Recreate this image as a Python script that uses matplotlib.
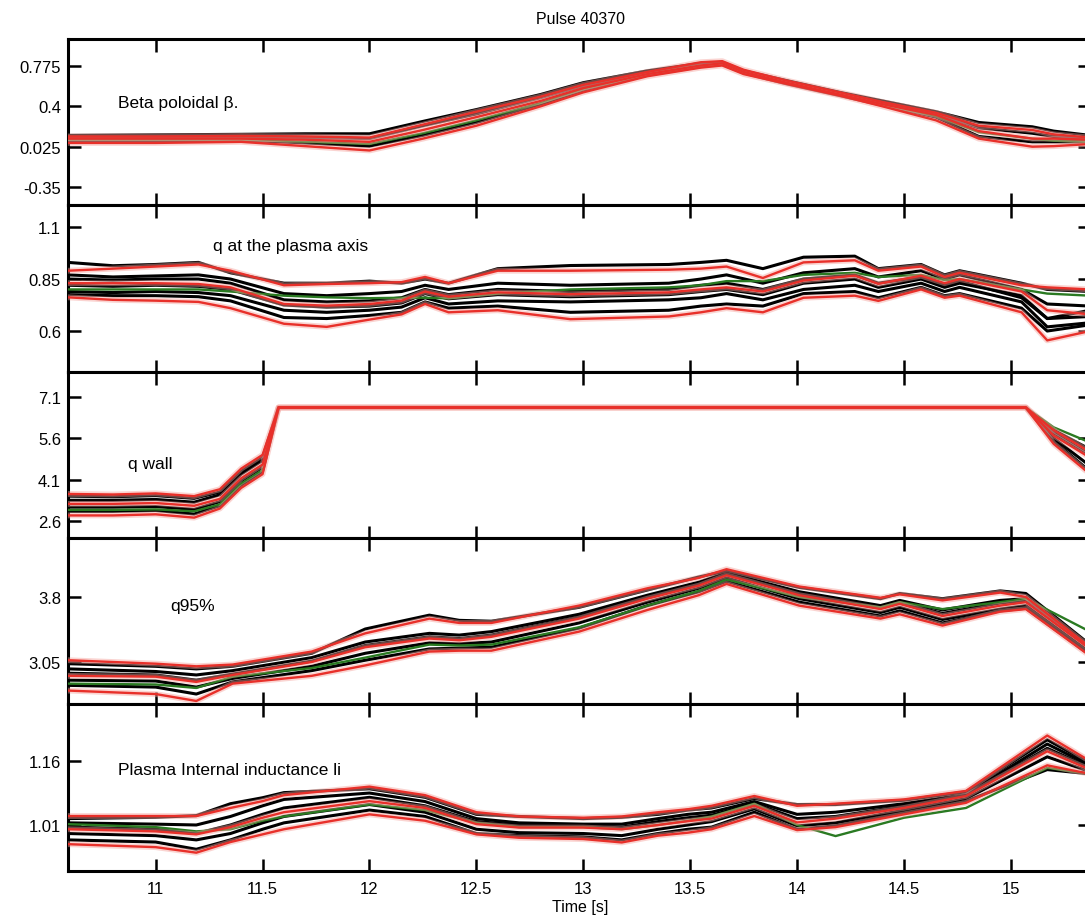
import matplotlib
matplotlib.use("Agg")
import matplotlib.pyplot as plt

plt.rcParams['font.family'] = ['Liberation Sans', 'DejaVu Sans']

# ---------------- shared axis ----------------
x_ticks = [11, 11.5, 12, 12.5, 13, 13.5, 14, 14.5, 15]
x_ticklabels = ["11", "11.5", "12", "12.5", "13", "13.5", "14", "14.5", "15"]
x_range = (10.59, 15.37)

# ---------------- panel 1: Beta poloidal ----------------
beta_t = [10.59, 11.0, 11.4, 11.7, 12.0, 12.25, 12.5, 12.8, 13.0, 13.3, 13.55,
          13.65, 13.75, 13.95, 14.2, 14.4, 14.65, 14.85, 15.1, 15.2, 15.37]
beta_black_1 = [0.13, 0.135, 0.14, 0.145, 0.145, 0.26, 0.37, 0.51, 0.62, 0.73, 0.80,
                0.81, 0.73, 0.64, 0.53, 0.45, 0.35, 0.25, 0.21, 0.17, 0.13]
beta_black_2 = [0.11, 0.115, 0.12, 0.11, 0.10, 0.22, 0.33, 0.48, 0.59, 0.72, 0.79,
                0.80, 0.73, 0.63, 0.52, 0.43, 0.33, 0.20, 0.15, 0.12, 0.10]
beta_black_3 = [0.08, 0.08, 0.085, 0.06, 0.03, 0.13, 0.25, 0.42, 0.55, 0.69, 0.77,
                0.79, 0.71, 0.61, 0.50, 0.41, 0.30, 0.12, 0.07, 0.07, 0.07]
beta_red_hi = [0.12, 0.12, 0.125, 0.12, 0.11, 0.23, 0.35, 0.49, 0.60, 0.72, 0.81,
               0.82, 0.74, 0.64, 0.53, 0.44, 0.34, 0.22, 0.18, 0.14, 0.11]
beta_red_mid = [0.10, 0.10, 0.10, 0.09, 0.07, 0.18, 0.30, 0.45, 0.57, 0.70, 0.78,
                0.80, 0.72, 0.62, 0.51, 0.42, 0.32, 0.17, 0.10, 0.10, 0.09]
beta_red_lo = [0.06, 0.06, 0.07, 0.03, -0.01, 0.10, 0.22, 0.40, 0.53, 0.68, 0.76,
               0.78, 0.70, 0.61, 0.50, 0.40, 0.27, 0.10, 0.025, 0.03, 0.05]
beta_green = [0.09, 0.09, 0.09, 0.07, 0.05, 0.15, 0.27, 0.43, 0.56, 0.70, 0.78,
              0.79, 0.72, 0.62, 0.51, 0.41, 0.31, 0.16, 0.10, 0.08, 0.07]
beta_yticks = [0.775, 0.4, 0.025, -0.35]
beta_yticklabels = ["0.775", "0.4", "0.025", "-0.35"]

# ---------------- panel 2: q at the plasma axis ----------------
qaxis_t = [10.59, 10.8, 11.0, 11.2, 11.35, 11.6, 11.8, 12.0, 12.15, 12.26, 12.37, 12.6, 12.94,
           13.4, 13.55, 13.67, 13.84, 14.03, 14.27, 14.38, 14.58, 14.69, 14.76, 15.05, 15.17, 15.37]
qaxis_black_1 = [0.93, 0.914, 0.92, 0.93, 0.88, 0.83, 0.83, 0.84, 0.83, 0.85, 0.83, 0.90, 0.915,
                 0.92, 0.93, 0.94, 0.90, 0.955, 0.96, 0.90, 0.92, 0.87, 0.89, 0.83, 0.80, 0.79]
qaxis_black_2 = [0.87, 0.86, 0.865, 0.87, 0.85, 0.78, 0.77, 0.78, 0.79, 0.82, 0.80, 0.83, 0.82,
                 0.83, 0.85, 0.87, 0.83, 0.88, 0.90, 0.86, 0.89, 0.85, 0.87, 0.80, 0.73, 0.72]
qaxis_black_3 = [0.85, 0.845, 0.85, 0.85, 0.83, 0.75, 0.74, 0.745, 0.76, 0.80, 0.775, 0.80, 0.79,
                 0.80, 0.82, 0.83, 0.80, 0.85, 0.87, 0.83, 0.86, 0.82, 0.84, 0.76, 0.66, 0.70]
qaxis_black_4 = [0.79, 0.785, 0.79, 0.785, 0.77, 0.70, 0.69, 0.70, 0.715, 0.76, 0.73, 0.745, 0.74,
                 0.75, 0.76, 0.78, 0.75, 0.80, 0.82, 0.79, 0.83, 0.79, 0.81, 0.74, 0.62, 0.64]
qaxis_black_5 = [0.775, 0.77, 0.77, 0.765, 0.745, 0.665, 0.66, 0.675, 0.69, 0.74, 0.71, 0.72, 0.69,
                 0.70, 0.72, 0.73, 0.72, 0.78, 0.79, 0.76, 0.81, 0.77, 0.78, 0.71, 0.60, 0.63]
qaxis_black_6 = [0.82, 0.815, 0.82, 0.815, 0.80, 0.725, 0.715, 0.72, 0.735, 0.78, 0.755, 0.775, 0.765,
                 0.775, 0.79, 0.80, 0.775, 0.83, 0.85, 0.81, 0.85, 0.81, 0.83, 0.77, 0.66, 0.67]
qaxis_red_hi = [0.89, 0.90, 0.91, 0.92, 0.89, 0.82, 0.826, 0.83, 0.835, 0.86, 0.83, 0.89, 0.89,
                0.895, 0.90, 0.91, 0.855, 0.93, 0.94, 0.89, 0.91, 0.86, 0.88, 0.82, 0.81, 0.80]
qaxis_red_mid = [0.83, 0.83, 0.83, 0.826, 0.81, 0.73, 0.722, 0.73, 0.746, 0.79, 0.765, 0.786, 0.777,
                 0.786, 0.80, 0.81, 0.79, 0.843, 0.866, 0.827, 0.866, 0.83, 0.85, 0.79, 0.70, 0.68]
qaxis_red_lo = [0.762, 0.75, 0.746, 0.74, 0.71, 0.635, 0.62, 0.655, 0.68, 0.73, 0.69, 0.70, 0.657,
                0.67, 0.69, 0.71, 0.69, 0.76, 0.77, 0.745, 0.80, 0.76, 0.77, 0.69, 0.555, 0.60]
qaxis_green = [0.80, 0.80, 0.80, 0.80, 0.79, 0.77, 0.762, 0.758, 0.76, 0.76, 0.757, 0.78, 0.80,
               0.81, 0.82, 0.84, 0.84, 0.87, 0.88, 0.86, 0.87, 0.845, 0.85, 0.80, 0.78, 0.77]
qaxis_yticks = [1.1, 0.85, 0.6]
qaxis_yticklabels = ["1.1", "0.85", "0.6"]

# ---------------- panel 3: q wall ----------------
qwall_t = [10.59, 10.8, 11.0, 11.18, 11.3, 11.4, 11.5, 11.575, 15.07, 15.2, 15.37]
qwall_black_1 = [3.50, 3.48, 3.52, 3.42, 3.65, 4.40, 4.90, 6.72, 6.72, 5.90, 5.20]
qwall_black_2 = [3.35, 3.35, 3.38, 3.28, 3.55, 4.30, 4.80, 6.72, 6.72, 5.80, 5.00]
qwall_black_3 = [3.10, 3.10, 3.12, 3.02, 3.30, 4.05, 4.55, 6.72, 6.72, 5.60, 4.60]
qwall_black_4 = [2.95, 2.95, 2.98, 2.85, 3.15, 3.90, 4.40, 6.72, 6.72, 5.50, 4.40]
qwall_red_hi = [3.58, 3.56, 3.60, 3.50, 3.75, 4.50, 5.00, 6.72, 6.72, 5.90, 5.10]
qwall_red_mid = [3.22, 3.22, 3.25, 3.15, 3.40, 4.15, 4.65, 6.72, 6.72, 5.70, 4.90]
qwall_red_lo = [2.80, 2.80, 2.84, 2.72, 3.05, 3.80, 4.30, 6.72, 6.72, 5.40, 4.30]
qwall_green = [3.00, 3.00, 3.02, 2.95, 3.20, 3.95, 4.45, 6.72, 6.72, 6.00, 5.45]
qwall_yticks = [7.1, 5.6, 4.1, 2.6]
qwall_yticklabels = ["7.1", "5.6", "4.1", "2.6"]

# ---------------- panel 4: q95% ----------------
q95_t = [10.59, 11.0, 11.19, 11.36, 11.73, 11.98, 12.28, 12.42, 12.57, 12.98,
         13.3, 13.54, 13.67, 14.01, 14.39, 14.48, 14.68, 14.95, 15.07, 15.37]
q95_black_1 = [3.03, 3.00, 2.97, 3.00, 3.15, 3.43, 3.59, 3.53, 3.52, 3.68,
               3.88, 4.03, 4.10, 3.91, 3.78, 3.84, 3.78, 3.87, 3.84, 3.25]
q95_black_2 = [2.97, 2.94, 2.90, 2.95, 3.10, 3.28, 3.38, 3.36, 3.40, 3.60,
               3.82, 3.97, 4.08, 3.86, 3.70, 3.76, 3.65, 3.76, 3.78, 3.22]
q95_black_3 = [2.84, 2.83, 2.76, 2.86, 3.00, 3.15, 3.27, 3.26, 3.28, 3.50,
               3.74, 3.90, 4.02, 3.78, 3.62, 3.68, 3.54, 3.66, 3.70, 3.16]
q95_black_4 = [2.78, 2.76, 2.68, 2.82, 2.95, 3.07, 3.20, 3.21, 3.22, 3.44,
               3.70, 3.86, 3.98, 3.74, 3.58, 3.64, 3.50, 3.64, 3.67, 3.13]
q95_black_5 = [2.92, 2.90, 2.84, 2.91, 3.06, 3.24, 3.34, 3.32, 3.36, 3.57,
               3.80, 3.95, 4.06, 3.84, 3.68, 3.74, 3.61, 3.73, 3.76, 3.21]
q95_red_hi = [3.07, 3.03, 3.00, 3.02, 3.17, 3.38, 3.55, 3.50, 3.50, 3.70,
              3.90, 4.02, 4.12, 3.92, 3.79, 3.83, 3.76, 3.85, 3.80, 3.22]
q95_red_mid = [2.89, 2.88, 2.82, 2.90, 3.05, 3.22, 3.32, 3.30, 3.34, 3.55,
               3.78, 3.93, 4.05, 3.82, 3.66, 3.72, 3.58, 3.70, 3.74, 3.20]
q95_red_lo = [2.72, 2.68, 2.60, 2.80, 2.89, 3.01, 3.17, 3.18, 3.18, 3.40,
              3.65, 3.82, 3.95, 3.70, 3.55, 3.60, 3.47, 3.63, 3.66, 3.12]
q95_green = [2.80, 2.79, 2.75, 2.88, 2.98, 3.10, 3.25, 3.24, 3.25, 3.45,
             3.70, 3.87, 4.00, 3.80, 3.68, 3.74, 3.66, 3.74, 3.78, 3.40]
q95_yticks = [3.8, 3.05]
q95_yticklabels = ["3.8", "3.05"]

# ---------------- panel 5: plasma internal inductance ----------------
li_t = [10.59, 11.0, 11.19, 11.35, 11.5, 11.6, 12.0, 12.26, 12.5, 12.7, 13.0,
        13.18, 13.35, 13.49, 13.6, 13.8, 14.0, 14.18, 14.5, 14.79, 15.17, 15.37]
li_black_1 = [1.025, 1.028, 1.032, 1.06, 1.074, 1.086, 1.095, 1.075, 1.035, 1.03, 1.025,
              1.028, 1.035, 1.045, 1.05, 1.072, 1.058, 1.058, 1.068, 1.088, 1.21, 1.155]
li_black_2 = [1.015, 1.012, 1.01, 1.03, 1.055, 1.07, 1.085, 1.065, 1.025, 1.015, 1.012,
              1.012, 1.025, 1.035, 1.04, 1.065, 1.035, 1.04, 1.06, 1.082, 1.20, 1.15]
li_black_3 = [0.99, 0.985, 0.975, 0.99, 1.015, 1.03, 1.058, 1.04, 1.0, 0.992, 0.99,
              0.985, 1.0, 1.01, 1.018, 1.048, 1.008, 1.015, 1.045, 1.072, 1.17, 1.135]
li_black_4 = [0.975, 0.97, 0.953, 0.975, 1.0, 1.015, 1.045, 1.03, 0.99, 0.985, 0.982,
              0.975, 0.99, 1.0, 1.005, 1.04, 1.0, 1.008, 1.04, 1.066, 1.14, 1.13]
li_black_5 = [1.005, 1.0, 0.99, 1.01, 1.035, 1.05, 1.075, 1.055, 1.018, 1.01, 1.008,
              1.005, 1.018, 1.027, 1.033, 1.06, 1.025, 1.03, 1.055, 1.08, 1.19, 1.145]
li_red_hi = [1.031, 1.031, 1.031, 1.05, 1.066, 1.08, 1.10, 1.08, 1.04, 1.03, 1.027,
             1.03, 1.04, 1.047, 1.055, 1.078, 1.055, 1.06, 1.07, 1.09, 1.22, 1.16]
li_red_mid = [1.0, 0.995, 0.988, 1.005, 1.027, 1.04, 1.066, 1.05, 1.012, 1.004, 1.004,
              1.0, 1.01, 1.019, 1.025, 1.055, 1.016, 1.025, 1.05, 1.078, 1.183, 1.14]
li_red_lo = [0.965, 0.958, 0.945, 0.97, 0.988, 1.0, 1.035, 1.02, 0.988, 0.98, 0.977,
             0.969, 0.985, 0.992, 1.0, 1.031, 0.998, 1.005, 1.035, 1.062, 1.15, 1.13]
li_green = [1.012, 1.005, 0.995, 1.0, 1.02, 1.03, 1.058, 1.045, 1.015, 1.005, 1.005,
            1.0, 1.01, 1.02, 1.03, 1.06, 1.01, 0.984, 1.027, 1.05, 1.144, 1.13]
li_yticks = [1.16, 1.01]
li_yticklabels = ["1.16", "1.01"]

# ---------------- assemble panels ----------------
panels = [
    dict(label="Beta poloidal \u03b2.", lx=0.049, ly=0.62, t=beta_t,
         black=[beta_black_1, beta_black_2, beta_black_3],
         red=[beta_red_hi, beta_red_mid, beta_red_lo], green=beta_green,
         yticks=beta_yticks, ylabels=beta_yticklabels, ylim=(-0.517, 1.026)),
    dict(label="q at the plasma axis", lx=0.142, ly=0.755, t=qaxis_t,
         black=[qaxis_black_1, qaxis_black_2, qaxis_black_3, qaxis_black_4,
                qaxis_black_5, qaxis_black_6],
         red=[qaxis_red_hi, qaxis_red_mid, qaxis_red_lo], green=qaxis_green,
         yticks=qaxis_yticks, ylabels=qaxis_yticklabels, ylim=(0.403, 1.206)),
    dict(label="q wall", lx=0.059, ly=0.446, t=qwall_t,
         black=[qwall_black_1, qwall_black_2, qwall_black_3, qwall_black_4],
         red=[qwall_red_hi, qwall_red_mid, qwall_red_lo], green=qwall_green,
         yticks=qwall_yticks, ylabels=qwall_yticklabels, ylim=(1.98, 8.01)),
    dict(label="q95%", lx=0.100, ly=0.596, t=q95_t,
         black=[q95_black_1, q95_black_2, q95_black_3, q95_black_4, q95_black_5],
         red=[q95_red_hi, q95_red_mid, q95_red_lo], green=q95_green,
         yticks=q95_yticks, ylabels=q95_yticklabels, ylim=(2.565, 4.48)),
    dict(label="Plasma Internal inductance li", lx=0.049, ly=0.605, t=li_t,
         black=[li_black_1, li_black_2, li_black_3, li_black_4, li_black_5],
         red=[li_red_hi, li_red_mid, li_red_lo], green=li_green,
         yticks=li_yticks, ylabels=li_yticklabels, ylim=(0.902, 1.294)),
]

RED = "#e8302a"
HALO = "#f4a09a"
GREEN = "#2a7a22"

W, H = 1085, 920
fig = plt.figure(figsize=(W / 100, H / 100), dpi=100)
fig.patch.set_facecolor("white")

left_px, right_px = 68, 1090
bounds_px = [40, 206, 373, 539, 705, 872]

for i, p in enumerate(panels):
    top = 1 - bounds_px[i] / H
    bot = 1 - bounds_px[i + 1] / H
    ax = fig.add_axes([left_px / W, bot, (right_px - left_px) / W, top - bot])
    for line in p["black"]:
        ax.plot(p["t"], line, color="black", lw=2.2, zorder=2)
    ax.plot(p["t"], p["green"], color=GREEN, lw=1.7, zorder=3)
    for line in p["red"]:
        ax.plot(p["t"], line, color=HALO, lw=4.2, alpha=0.45, zorder=3.5,
                solid_capstyle="round")
        ax.plot(p["t"], line, color=RED, lw=1.7, zorder=4)
    ax.set_xlim(*x_range)
    ax.set_ylim(*p["ylim"])
    ax.set_yticks(p["yticks"])
    ax.set_yticklabels(p["ylabels"])
    ax.set_xticks(x_ticks)
    if i == len(panels) - 1:
        ax.set_xticklabels(x_ticklabels)
    else:
        ax.set_xticklabels([])
    ax.tick_params(axis="both", direction="in", length=9, width=1.8,
                   top=True, right=True, labelsize=12, colors="black")
    ax.tick_params(axis="x", pad=7)
    ax.tick_params(axis="y", pad=5)
    for s in ax.spines.values():
        s.set_linewidth(2.2)
    ax.text(p["lx"], p["ly"], p["label"], transform=ax.transAxes,
            ha="left", va="center", fontsize=12.5)

fig.text(580 / W, 1 - 20 / H, "Pulse 40370", ha="center", va="center", fontsize=11.5)
fig.text(580 / W, 1 - 908 / H, "Time [s]", ha="center", va="center", fontsize=11.5)

fig.savefig("out.png", dpi=100, facecolor="white")
